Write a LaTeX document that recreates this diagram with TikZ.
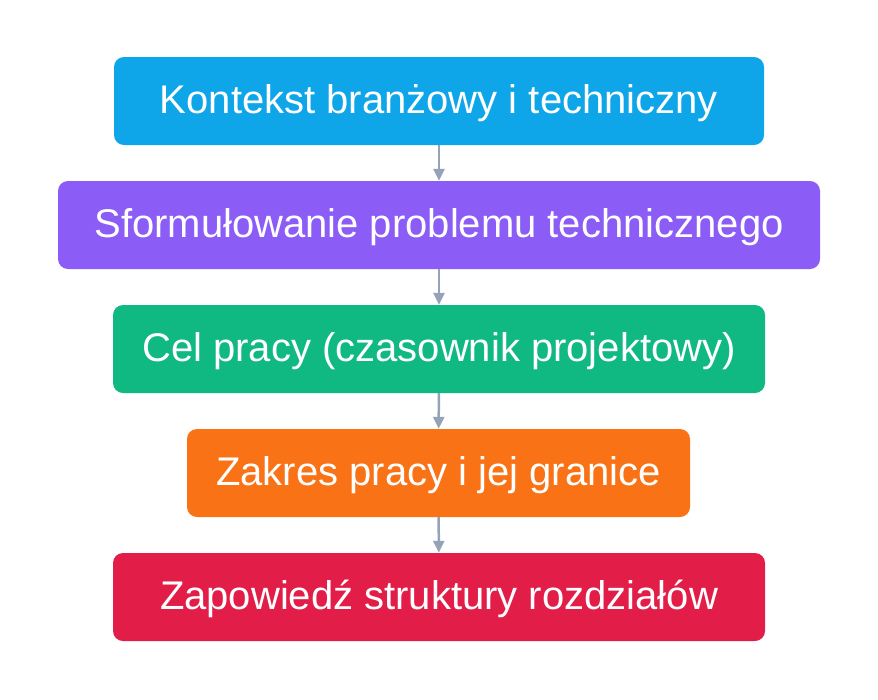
\documentclass[tikz,border=0pt]{standalone}
\usepackage{fontspec}
\setmainfont{Liberation Sans}
\usetikzlibrary{arrows.meta}
\definecolor{skyblue}{HTML}{0EA5E9}
\definecolor{violetbox}{HTML}{8B5CF6}
\definecolor{emeraldbox}{HTML}{10B981}
\definecolor{orangebox}{HTML}{F97316}
\definecolor{rosebox}{HTML}{E11D48}
\definecolor{slatearrow}{HTML}{94A3B8}
\begin{document}
\begin{tikzpicture}[x=1pt,y=-1pt, stage/.style={rounded corners=10pt,minimum height=88pt,inner sep=0pt,text height=32pt,text depth=8pt,text=white,font=\fontsize{40}{48}\selectfont},flow/.style={-{Triangle[width=11pt,length=12pt]},line width=2.5pt,draw=slatearrow}]
                      \useasboundingbox (0,0) rectangle (878,699);
                      \node[stage,fill=skyblue,minimum width=650pt] (s1) at (439,101) {Kontekst branżowy i techniczny};
                      \node[stage,fill=violetbox,minimum width=762pt] (s2) at (439,225) {Sformułowanie problemu technicznego};
                      \node[stage,fill=emeraldbox,minimum width=652pt] (s3) at (439,349) {Cel pracy (czasownik projektowy)};
                      \node[stage,fill=orangebox,minimum width=503pt] (s4) at (438.5,473) {Zakres pracy i jej granice};
                      \node[stage,fill=rosebox,minimum width=652pt] (s5) at (439,597) {Zapowiedź struktury rozdziałów};

                      \draw[flow] (s1) -- (s2);
                      \draw[flow] (s2) -- (s3);
                      \draw[flow] (s3) -- (s4);
                      \draw[flow] (s4) -- (s5);
                    \end{tikzpicture}
\end{document}
